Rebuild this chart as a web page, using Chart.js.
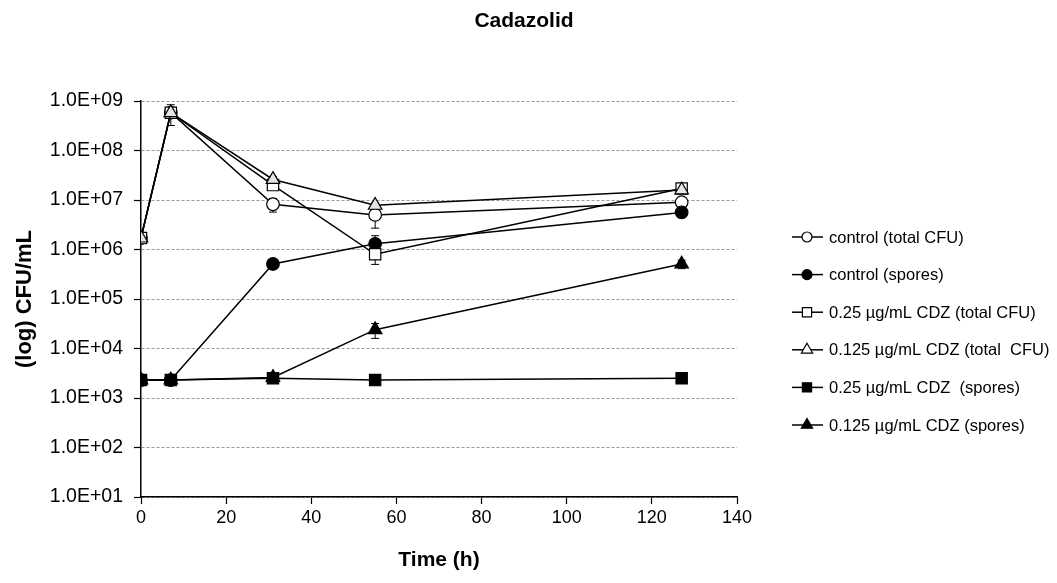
<!DOCTYPE html>
<html>
<head>
<meta charset="utf-8">
<script src="https://cdn.jsdelivr.net/npm/chart.js@4/dist/chart.umd.min.js"></script>
<style>
  html, body { margin: 0; padding: 0; background: #fff; }
  #wrap { width: 1057px; height: 583px; position: relative; }
</style>
</head>
<body>
<div id="wrap"><canvas id="chart" width="1057" height="583"></canvas></div>
<script>
// sampling times (h)
var times = [0, 7, 31, 55, 127];

// CFU/mL
var controlTotal   = [1.7e6, 5.8e8, 8.2e6, 5.0e6, 9.0e6];
var controlSpores  = [2.3e3, 2.3e3, 5.1e5, 1.3e6, 5.6e6];
var cdz025Total    = [1.7e6, 5.8e8, 2.0e7, 8.0e5, 1.7e7];
var cdz0125Total   = [1.7e6, 5.8e8, 2.6e7, 7.8e6, 1.6e7];
var cdz025Spores   = [2.3e3, 2.3e3, 2.5e3, 2.3e3, 2.5e3];
var cdz0125Spores  = [2.3e3, 2.3e3, 2.6e3, 2.4e4, 5.1e5];

// standard deviations (error bars)
var controlTotalErr  = [0, 1.0e8, 2.5e6, 2.3e6, 1.5e6];
var controlSporesErr = [0, 0, 5e4, 6e5, 8e5];
var cdz025TotalErr   = [0, 2.6e8, 3e6, 3e5, 2e6];
var cdz0125TotalErr  = [0, 1e8, 4e6, 1e6, 2e6];
var cdz025SporesErr  = [0, 0, 2e2, 0, 2e2];
var cdz0125SporesErr = [0, 0, 3e2, 8e3, 1e5];

var yTicks = [1e1, 1e2, 1e3, 1e4, 1e5, 1e6, 1e7, 1e8, 1e9];
var xTicks = [0, 20, 40, 60, 80, 100, 120, 140];

var labels = [
    'control (total CFU)',
    'control (spores)',
    '0.25 \u00b5g/mL CDZ (total CFU)',
    '0.125 \u00b5g/mL CDZ (total  CFU)',
    '0.25 \u00b5g/mL CDZ  (spores)',
    '0.125 \u00b5g/mL CDZ (spores)'
];

var FONT = '"Liberation Sans", Arial, sans-serif';

function toPoints(arr){
    var out = [];
    for(var i = 0; i < times.length; i++){
        out.push({x: times[i], y: arr[i]});
    }
    return out;
}

function series(idx, arr, err, style, fill, radius){
    return {
        label: labels[idx],
        data: toPoints(arr),
        errors: err,
        borderColor: '#000',
        borderWidth: 1.5,
        pointStyle: style,
        pointRadius: radius,
        pointBackgroundColor: fill,
        pointBorderColor: '#000',
        pointBorderWidth: 1.2,
        tension: 0,
        fill: false,
        order: 10 - idx
    };
}

var datasets = [
    series(0, controlTotal, controlTotalErr, 'circle', '#fff', 6.3),
    series(1, controlSpores, controlSporesErr, 'circle', '#000', 6.3),
    series(2, cdz025Total, cdz025TotalErr, 'rect', '#fff', 8),
    series(3, cdz0125Total, cdz0125TotalErr, 'triangle', '#e4e4e4', 7.8),
    series(4, cdz025Spores, cdz025SporesErr, 'rect', '#000', 8),
    series(5, cdz0125Spores, cdz0125SporesErr, 'triangle', '#000', 7.8)
];

// error bars drawn behind the markers
var errorBars = {
    id: 'errorBars',
    beforeDatasetsDraw: function(chart){
        var ctx = chart.ctx;
        var xs = chart.scales.x, ys = chart.scales.y;
        ctx.save();
        ctx.strokeStyle = '#000';
        ctx.lineWidth = 1;
        chart.data.datasets.forEach(function(ds){
            ds.data.forEach(function(p, i){
                var e = ds.errors[i];
                if(!e){ return; }
                var px = xs.getPixelForValue(p.x);
                var lo = ys.getPixelForValue(Math.max(p.y - e, 10));
                var hi = ys.getPixelForValue(p.y + e);
                ctx.beginPath();
                ctx.moveTo(px, lo); ctx.lineTo(px, hi);
                ctx.moveTo(px - 4, lo); ctx.lineTo(px + 4, lo);
                ctx.moveTo(px - 4, hi); ctx.lineTo(px + 4, hi);
                ctx.stroke();
            });
        });
        ctx.restore();
    }
};

function marker(ctx, style, fill, x, y, r){
    ctx.beginPath();
    if(style === 'circle'){
        ctx.arc(x, y, r, 0, Math.PI * 2);
    } else if(style === 'rect'){
        var s = r * Math.SQRT1_2;
        ctx.rect(x - s, y - s, 2 * s, 2 * s);
    } else {
        ctx.moveTo(x, y - r);
        ctx.lineTo(x + r * 0.866, y + r * 0.5);
        ctx.lineTo(x - r * 0.866, y + r * 0.5);
        ctx.closePath();
    }
    ctx.fillStyle = fill;
    ctx.fill();
    ctx.stroke();
}

// title + Excel-style legend (line through marker)
var extras = {
    id: 'extras',
    afterDraw: function(chart){
        var ctx = chart.ctx;
        ctx.save();
        ctx.fillStyle = '#000';
        ctx.font = 'bold 21px ' + FONT;
        ctx.textAlign = 'center';
        ctx.textBaseline = 'middle';
        ctx.fillText('Cadazolid', 524, 21);

        ctx.font = '16.5px ' + FONT;
        ctx.textAlign = 'left';
        chart.data.datasets.forEach(function(ds, i){
            var y = 237 + i * 37.6;
            ctx.strokeStyle = '#000';
            ctx.lineWidth = 1.5;
            ctx.beginPath();
            ctx.moveTo(792, y); ctx.lineTo(823, y);
            ctx.stroke();
            ctx.lineWidth = 1.2;
            var fill = ds.pointBackgroundColor === '#e4e4e4' ? '#fff' : ds.pointBackgroundColor;
            marker(ctx, ds.pointStyle, fill, 807, y, ds.pointStyle === 'circle' ? 5 : 6.5);
            ctx.fillStyle = '#000';
            ctx.fillText(ds.label, 829, y + 1);
        });
        ctx.restore();
    }
};

var config = {
    type: 'line',
    data: { datasets: datasets },
    options: {
        responsive: false,
        animation: false,
        layout: { padding: { top: 101, right: 320, bottom: 0, left: 0 } },
        plugins: {
            legend: { display: false },
            title: { display: false },
            tooltip: { enabled: false }
        },
        scales: {
            x: {
                type: 'linear',
                min: 0,
                max: 140,
                afterBuildTicks: function(scale){
                    scale.ticks = xTicks.map(function(v){ return {value: v}; });
                },
                afterFit: function(scale){ scale.height = 86; },
                grid: {
                    drawOnChartArea: false,
                    tickLength: 7,
                    tickColor: '#000',
                    tickWidth: 1.2
                },
                border: { display: true, color: '#000', width: 1.5 },
                ticks: {
                    color: '#000',
                    padding: 3,
                    maxRotation: 0,
                    font: { family: FONT, size: 18 }
                },
                title: {
                    display: true,
                    text: 'Time (h)',
                    color: '#000',
                    font: { family: FONT, size: 21, weight: 'bold' },
                    padding: { top: 0, bottom: 10 }
                }
            },
            y: {
                type: 'logarithmic',
                min: 10,
                max: 1e9,
                afterBuildTicks: function(scale){
                    scale.ticks = yTicks.map(function(v){ return {value: v}; });
                },
                afterFit: function(scale){ scale.width = 141; },
                grid: {
                    color: '#9a9a9a',
                    lineWidth: 1,
                    tickLength: 7,
                    tickColor: '#000',
                    tickWidth: 1.2,
                    tickBorderDash: []
                },
                border: { display: true, color: '#000', width: 1.5, dash: [3, 2] },
                ticks: {
                    color: '#000',
                    padding: 11,
                    font: { family: FONT, size: 19.5 },
                    callback: function(v){
                        var e = Math.round(Math.log10(v));
                        return '1.0E+' + (e < 10 ? '0' : '') + e;
                    }
                },
                title: {
                    display: true,
                    text: '(log) CFU/mL',
                    color: '#000',
                    font: { family: FONT, size: 22, weight: 'bold' },
                    padding: { top: 12, bottom: 0 }
                }
            }
        }
    },
    plugins: [errorBars, extras]
};

var ctx = document.getElementById('chart').getContext('2d');
var myChart = new Chart(ctx, config);
</script>
</body>
</html>
